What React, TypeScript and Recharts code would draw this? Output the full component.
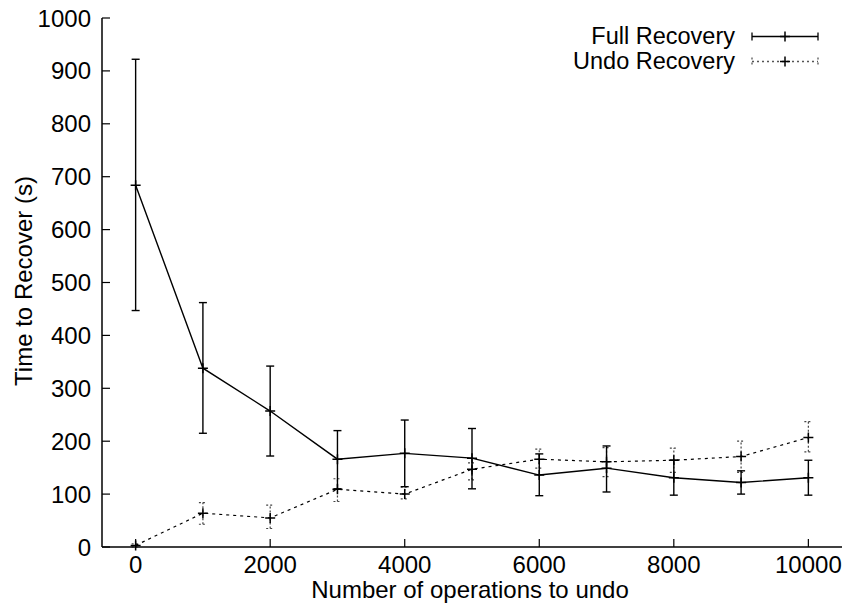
import { ComposedChart, Line, XAxis, YAxis, ErrorBar, Legend, Label } from "recharts"

const operations = [0, 1000, 2000, 3000, 4000, 5000, 6000, 7000, 8000, 9000, 10000]

const fullMean = [684, 338, 257, 166, 177, 168, 136, 149, 131, 122, 131]
const fullLow = [447, 215, 172, 110, 114, 110, 97, 104, 98, 100, 98]
const fullHigh = [922, 462, 342, 220, 240, 224, 176, 191, 164, 144, 164]

const undoMean = [3, 64, 55, 109, 100, 147, 166, 161, 164, 171, 207]
const undoLow = [0, 43, 35, 86, 91, 127, 149, 133, 141, 141, 180]
const undoHigh = [6, 84, 79, 129, 113, 159, 185, 188, 187, 200, 237]

const xTicks = [0, 2000, 4000, 6000, 8000, 10000]
const yTicks = [0, 100, 200, 300, 400, 500, 600, 700, 800, 900, 1000]

const data = operations.map((op, i) => ({
  op,
  full: fullMean[i],
  fullErr: [fullMean[i] - fullLow[i], fullHigh[i] - fullMean[i]],
  undo: undoMean[i],
  undoErr: [undoMean[i] - undoLow[i], undoHigh[i] - undoMean[i]],
}))

const FONT = "'Liberation Sans', Arial, Helvetica, sans-serif"
const FS = 24

const Plus = (props: any) => {
  const { cx, cy } = props
  if (cx == null || cy == null) return null
  return <path d={`M${cx - 5},${cy}h10M${cx},${cy - 5}v10`} stroke="#000" strokeWidth={1.5} fill="none" />
}

const LegendBox = () => {
  const rows = [
    { label: "Full Recovery", dash: undefined, color: "#000" },
    { label: "Undo Recovery", dash: "2 3", color: "#555" },
  ]
  return (
    <div style={{ fontFamily: FONT, fontSize: 23.5, color: "#000" }}>
      {rows.map((r) => (
        <div key={r.label} style={{ display: "flex", alignItems: "center", height: 25 }}>
          <div style={{ width: 195, textAlign: "right", lineHeight: "25px", whiteSpace: "nowrap" }}>{r.label}</div>
          <svg width={76} height={25} style={{ marginLeft: 13 }}>
            <line x1={4} y1={12.5} x2={70} y2={12.5} stroke={r.color} strokeWidth={1.3} strokeDasharray={r.dash} />
            <line x1={4} y1={8.5} x2={4} y2={16.5} stroke={r.color} strokeWidth={1.3} strokeDasharray={r.dash} />
            <line x1={70} y1={8.5} x2={70} y2={16.5} stroke={r.color} strokeWidth={1.3} strokeDasharray={r.dash} />
            <path d="M32,12.5h10M37,7.5v10" stroke="#000" strokeWidth={1.5} />
          </svg>
        </div>
      ))}
    </div>
  )
}

export default function App() {
  const tickStyle = { fontFamily: FONT, fontSize: FS, fill: "#000" }
  return (
    <div style={{ position: "absolute", left: 0, top: 0, background: "#fff" }}>
      <ComposedChart width={845} height={604} data={data} margin={{ top: 18, right: 3, bottom: 0, left: 0 }}>
        <XAxis
          dataKey="op"
          type="number"
          domain={[-500, 10500]}
          ticks={xTicks}
          height={57}
          tickSize={-8}
          tickMargin={17}
          tick={tickStyle}
          axisLine={{ stroke: "#000", strokeWidth: 1.5 }}
          tickLine={{ stroke: "#000", strokeWidth: 1.2 }}
        >
          <Label
            content={() => (
              <text x={470} y={598} textAnchor="middle" fontFamily={FONT} fontSize={FS} fill="#000">
                Number of operations to undo
              </text>
            )}
          />
        </XAxis>
        <XAxis
          xAxisId="top"
          dataKey="op"
          type="number"
          orientation="top"
          domain={[-500, 10500]}
          ticks={xTicks}
          height={0}
          tickSize={-8}
          tickFormatter={() => ""}
          axisLine={{ stroke: "#000", strokeWidth: 1.5 }}
          tickLine={{ stroke: "#000", strokeWidth: 1.2 }}
        />
        <YAxis
          type="number"
          domain={[0, 1000]}
          ticks={yTicks}
          width={102}
          tickSize={-8}
          tickMargin={19}
          tick={tickStyle}
          axisLine={{ stroke: "#000", strokeWidth: 1.5 }}
          tickLine={{ stroke: "#000", strokeWidth: 1.2 }}
        >
          <Label
            content={() => (
              <text
                x={32}
                y={281}
                textAnchor="middle"
                transform="rotate(-90 32 281)"
                fontFamily={FONT}
                fontSize={FS}
                fill="#000"
              >
                Time to Recover (s)
              </text>
            )}
          />
        </YAxis>
        <YAxis
          yAxisId="right"
          orientation="right"
          type="number"
          domain={[0, 1000]}
          ticks={yTicks}
          width={0}
          tickSize={-8}
          tickFormatter={() => ""}
          axisLine={{ stroke: "#000", strokeWidth: 1.5 }}
          tickLine={{ stroke: "#000", strokeWidth: 1.2 }}
        />
        <Line
          dataKey="undo"
          stroke="#000"
          strokeWidth={1.2}
          strokeDasharray="3 4"
          dot={<Plus />}
          activeDot={false}
          isAnimationActive={false}
        >
          <ErrorBar dataKey="undoErr" direction="y" width={4} stroke="#444" strokeWidth={1.2} strokeDasharray="2 2" />
        </Line>
        <Line
          dataKey="full"
          stroke="#000"
          strokeWidth={1.4}
          dot={<Plus />}
          activeDot={false}
          isAnimationActive={false}
        >
          <ErrorBar dataKey="fullErr" direction="y" width={4} stroke="#000" strokeWidth={1.4} />
        </Line>
        <Legend
          layout="horizontal"
          verticalAlign="middle"
          align="center"
          content={() => <LegendBox />}
          wrapperStyle={{ position: "absolute", left: 540, top: 24, width: 290, height: 50 }}
        />
      </ComposedChart>
    </div>
  )
}
